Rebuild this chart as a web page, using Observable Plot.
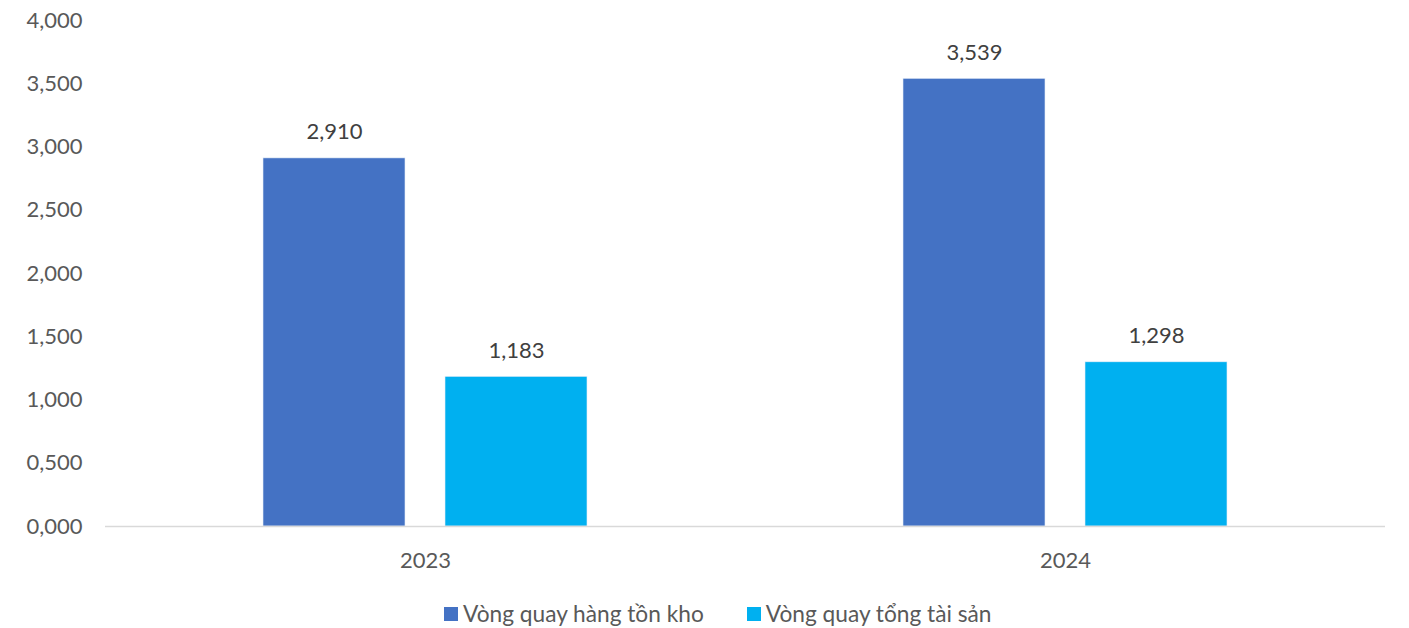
<!DOCTYPE html>
<html>
<head>
<meta charset="utf-8">
<script src="https://cdn.jsdelivr.net/npm/d3@7"></script>
<script src="https://cdn.jsdelivr.net/npm/@observablehq/plot@0.6"></script>
<style>
  body { margin: 0; background: #fff; font-family: Lato, "Open Sans", sans-serif; }
  #wrap { position: relative; width: 1409px; height: 628px; }
  #legend { position: absolute; left: 444px; top: 600px; display: flex; align-items: center; font-size: 22.7px; color: #595959; white-space: nowrap; }
  .item { display: flex; align-items: center; margin-right: 43px; }
  .sw { width: 14px; height: 14px; margin-right: 5px; }
</style>
</head>
<body>
<div id="wrap">
  <div id="chart"></div>
  <div id="legend"></div>
</div>
<script>
const years = ["2023", "2024"];
const seriesNames = ["Vòng quay hàng tồn kho", "Vòng quay tổng tài sản"];
const inventoryTurnover = [2.910, 3.539];
const assetTurnover = [1.183, 1.298];
const yTicks = [0, 0.5, 1, 1.5, 2, 2.5, 3, 3.5, 4];
const colors = ["#4472C4", "#00B0F0"];

const data = [];
years.forEach((y, i) => {
  data.push({year: y, series: seriesNames[0], value: inventoryTurnover[i]});
  data.push({year: y, series: seriesNames[1], value: assetTurnover[i]});
});

const fmt = d => d.toFixed(3).replace(".", ",");

const chart = Plot.plot({
  width: 1409,
  height: 590,
  marginTop: 20,
  marginBottom: 64,
  marginLeft: 105,
  marginRight: 24,
  style: {fontFamily: "Lato, 'Open Sans', sans-serif", fontSize: "22px", color: "#595959", background: "#fff"},
  fx: {domain: years, paddingInner: 0, paddingOuter: 0, label: null, tickSize: 0, tickPadding: 26, axis: "bottom"},
  x: {domain: seriesNames, paddingInner: 0.2186, paddingOuter: 0.858, axis: null},
  y: {domain: [0, 4], ticks: yTicks, tickFormat: fmt, tickSize: 0, tickPadding: 23, label: null, grid: false},
  color: {domain: seriesNames, range: colors},
  marks: [
    Plot.barY(data, {fx: "year", x: "series", y: "value", fill: "series", stroke: "#e8eef8", strokeWidth: 0.6}),
    Plot.ruleY([0], {stroke: "#d9d9d9", strokeWidth: 1.5}),
    Plot.text(data, {fx: "year", x: "series", y: "value", text: d => fmt(d.value), dy: -26, fill: "#404040", fontSize: 22})
  ]
});
document.getElementById("chart").appendChild(chart);

const legend = document.getElementById("legend");
seriesNames.forEach((s, i) => {
  const it = document.createElement("div");
  it.className = "item";
  const sw = document.createElement("div");
  sw.className = "sw";
  sw.style.background = colors[i];
  const t = document.createElement("span");
  t.textContent = s;
  it.appendChild(sw);
  it.appendChild(t);
  legend.appendChild(it);
});
</script>
</body>
</html>
